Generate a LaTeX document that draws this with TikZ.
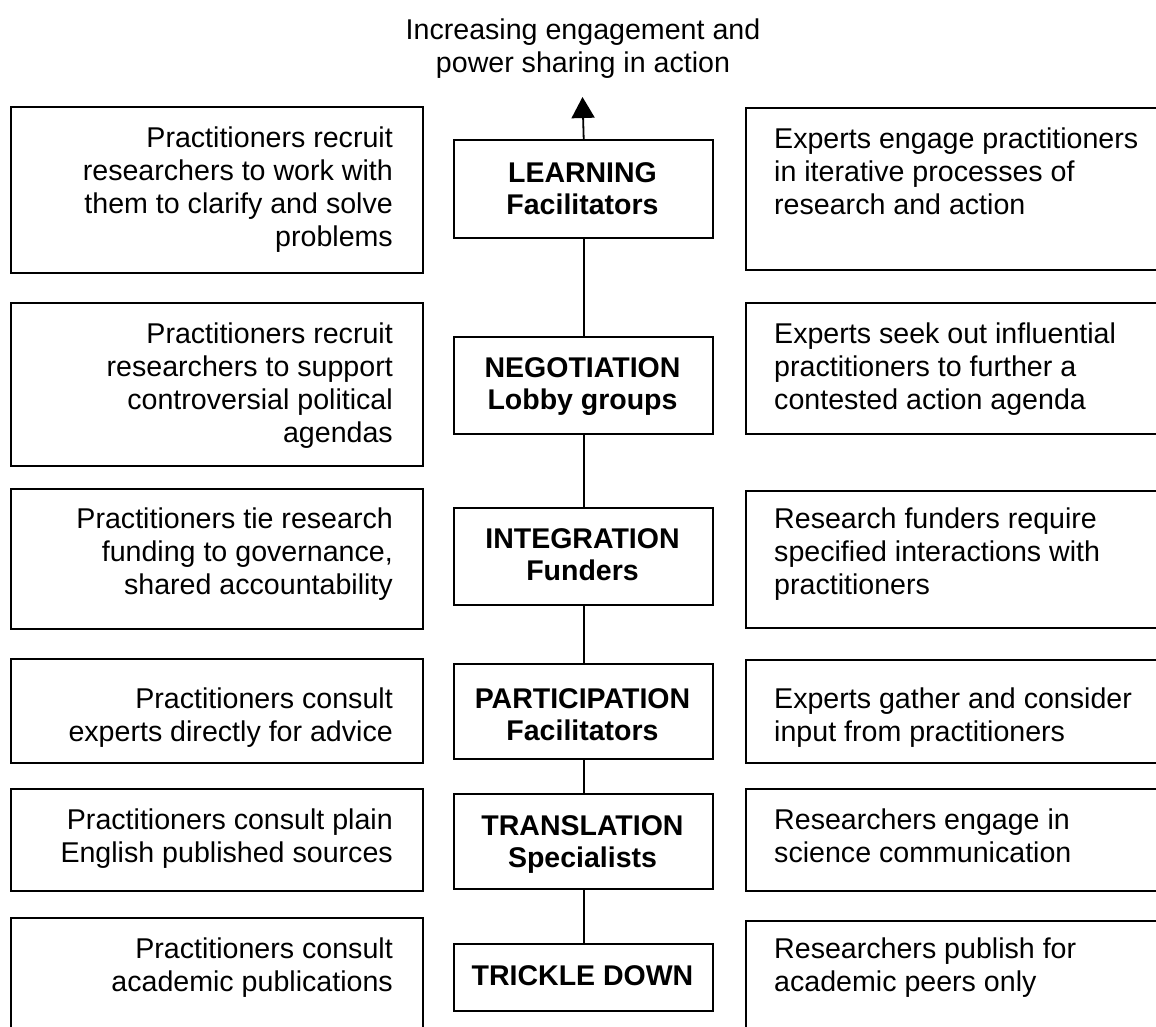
\documentclass[tikz,border=0pt]{standalone}
\usepackage{fontspec}
\setmainfont{Liberation Sans}
\usetikzlibrary{arrows.meta}
\newcommand\tstrut{\rule{0pt}{24pt}}
\begin{document}
\begin{tikzpicture}[x=1pt,y=-1pt,
  box/.style={draw, line width=2.4pt, inner sep=0pt, anchor=north west},
  bodytxt/.style={inner sep=0pt, font=\fontsize{28.6}{33}\selectfont},
  lefttxt/.style={bodytxt, align=right, anchor=north east},
  righttxt/.style={bodytxt, align=left, anchor=north west},
  centertxt/.style={inner sep=0pt, font=\bfseries\fontsize{28.5}{32}\selectfont, align=center, anchor=north},
  link/.style={line width=1.8pt}]
\useasboundingbox (0,0) rectangle (1156,1026);
\clip (0,0) rectangle (1156,1026);
\fill[white] (0,0) rectangle (1156,1026);

% title
\node[bodytxt, align=center, anchor=north] (title) at (583,15)
  {\tstrut Increasing engagement and\\power sharing in action};

% left boxes
\node[box, minimum width=412pt, minimum height=166pt] (L1) at (10,106) {};
\node[box, minimum width=412pt, minimum height=163pt] (L2) at (10,302) {};
\node[box, minimum width=412pt, minimum height=140pt] (L3) at (10,488) {};
\node[box, minimum width=412pt, minimum height=104pt] (L4) at (10,658) {};
\node[box, minimum width=412pt, minimum height=102pt] (L5) at (10,788) {};
\node[box, minimum width=412pt, minimum height=130pt] (L6) at (10,917) {};

% center boxes
\node[box, minimum width=259pt, minimum height=98pt] (C1) at (453,139) {};
\node[box, minimum width=259pt, minimum height=97pt] (C2) at (453,336) {};
\node[box, minimum width=259pt, minimum height=97pt] (C3) at (453,507) {};
\node[box, minimum width=259pt, minimum height=95pt] (C4) at (453,663) {};
\node[box, minimum width=259pt, minimum height=95pt] (C5) at (453,793) {};
\node[box, minimum width=259pt, minimum height=67pt] (C6) at (453,943) {};

% right boxes
\node[box, minimum width=430pt, minimum height=162pt] (R1) at (745,107) {};
\node[box, minimum width=430pt, minimum height=131pt] (R2) at (745,302) {};
\node[box, minimum width=430pt, minimum height=137pt] (R3) at (745,490) {};
\node[box, minimum width=430pt, minimum height=103pt] (R4) at (745,659) {};
\node[box, minimum width=430pt, minimum height=102pt] (R5) at (745,788) {};
\node[box, minimum width=430pt, minimum height=130pt] (R6) at (745,920) {};

% left texts
\node[lefttxt] (L1t) at (393,123) {\tstrut Practitioners recruit\\researchers to work with\\them to clarify and solve\\problems};
\node[lefttxt] (L2t) at (393,319) {\tstrut Practitioners recruit\\researchers to support\\controversial political\\agendas};
\node[lefttxt] (L3t) at (393,504) {\tstrut Practitioners tie research\\funding to governance,\\shared accountability};
\node[lefttxt] (L4t) at (393,684) {\tstrut Practitioners consult\\experts directly for advice};
\node[lefttxt] (L5t) at (393,805) {\tstrut Practitioners consult plain\\English published sources};
\node[lefttxt] (L6t) at (393,934) {\tstrut Practitioners consult\\academic publications};

% center texts
\node[centertxt] (C1t) at (582.5,158) {\tstrut LEARNING\\Facilitators};
\node[centertxt] (C2t) at (582.5,353) {\tstrut NEGOTIATION\\Lobby groups};
\node[centertxt] (C3t) at (582.5,524) {\tstrut INTEGRATION\\Funders};
\node[centertxt] (C4t) at (582.5,684) {\tstrut PARTICIPATION\\Facilitators};
\node[centertxt] (C5t) at (582.5,811) {\tstrut TRANSLATION\\Specialists};
\node[centertxt] (C6t) at (582.5,961) {\tstrut TRICKLE DOWN};

% right texts
\node[righttxt] (R1t) at (774,124) {\tstrut Experts engage practitioners\\in iterative processes of\\research and action};
\node[righttxt] (R2t) at (774,319) {\tstrut Experts seek out influential\\practitioners to further a\\contested action agenda};
\node[righttxt] (R3t) at (774,504) {\tstrut Research funders require\\specified interactions with\\practitioners};
\node[righttxt] (R4t) at (774,684) {\tstrut Experts gather and consider\\input from practitioners};
\node[righttxt] (R5t) at (774,805) {\tstrut Researchers engage in\\science communication};
\node[righttxt] (R6t) at (774,934) {\tstrut Researchers publish for\\academic peers only};

% connectors
\coordinate (top) at (582.5,97);
\draw[link, -{Triangle[width=23pt,length=21pt]}] (C1.north) -- (top);
\draw[link] (C1.south) -- (C2.north);
\draw[link] (C2.south) -- (C3.north);
\draw[link] (C3.south) -- (C4.north);
\draw[link] (C4.south) -- (C5.north);
\draw[link] (C5.south) -- (C6.north);
\end{tikzpicture}
\end{document}
